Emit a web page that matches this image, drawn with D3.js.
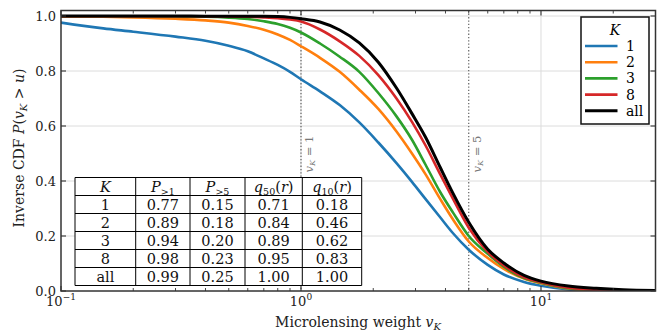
<!DOCTYPE html>
<html>
<head>
<meta charset="utf-8">
<script src="https://cdn.jsdelivr.net/npm/d3@7"></script>
<style>
  html, body { margin: 0; padding: 0; background: #fff; }
  svg { display: block; font-family: "DejaVu Serif", serif; }
</style>
</head>
<body>
<svg id="chart" width="664" height="335"></svg>
<script>
// Microlensing weight grid (v_K) shared by all survival curves
const weights = [0.1, 0.15, 0.2, 0.3, 0.4, 0.5, 0.6, 0.7, 0.8, 0.9, 1.0, 1.2, 1.45, 1.75, 2.1,
                 2.5, 2.9, 3.3, 3.8, 4.3, 5.0, 6.0, 7.0, 8.5, 10, 13, 17, 22, 30];

// Inverse CDF P(v_K > u) for each K
const cdfK1 = [0.976, 0.955, 0.943, 0.925, 0.91, 0.892, 0.872, 0.846, 0.822, 0.797, 0.77, 0.726, 0.676, 0.613, 0.54,
               0.465, 0.397, 0.335, 0.268, 0.21, 0.15, 0.095, 0.06, 0.033, 0.019, 0.006, 0.002, 0.001, 0.0];
const cdfK2 = [0.998, 0.997, 0.995, 0.99, 0.984, 0.976, 0.964, 0.95, 0.933, 0.913, 0.89, 0.848, 0.797, 0.732, 0.662,
               0.58, 0.50, 0.425, 0.335, 0.26, 0.18, 0.12, 0.08, 0.045, 0.028, 0.009, 0.003, 0.001, 0.0];
const cdfK3 = [0.999, 0.999, 0.999, 0.998, 0.997, 0.994, 0.989, 0.981, 0.971, 0.957, 0.94, 0.9, 0.852, 0.797, 0.72,
               0.635, 0.55, 0.46, 0.36, 0.285, 0.20, 0.135, 0.088, 0.047, 0.03, 0.01, 0.004, 0.001, 0.0];
const cdfK8 = [0.999, 0.999, 0.999, 0.999, 0.999, 0.998, 0.997, 0.995, 0.992, 0.987, 0.98, 0.951, 0.908, 0.855, 0.785,
               0.70, 0.615, 0.53, 0.425, 0.335, 0.23, 0.142, 0.093, 0.05, 0.032, 0.012, 0.004, 0.001, 0.0];
const cdfAll = [1.0, 1.0, 1.0, 1.0, 0.9995, 0.9995, 0.999, 0.999, 0.998, 0.995, 0.99, 0.978, 0.949, 0.902, 0.832,
                0.738, 0.645, 0.56, 0.45, 0.355, 0.25, 0.152, 0.102, 0.057, 0.036, 0.018, 0.01, 0.005, 0.002];

const seriesNames = ["1", "2", "3", "8", "all"];
const seriesValues = [cdfK1, cdfK2, cdfK3, cdfK8, cdfAll];
const seriesColors = ["#1f77b4", "#ff7f0e", "#2ca02c", "#d62728", "#000000"];

// Summary table
const tableK = ["1", "2", "3", "8", "all"];
const tablePgt1 = ["0.77", "0.89", "0.94", "0.98", "0.99"];
const tablePgt5 = ["0.15", "0.18", "0.20", "0.23", "0.25"];
const tableQ50 = ["0.71", "0.84", "0.89", "0.95", "1.00"];
const tableQ10 = ["0.18", "0.46", "0.62", "0.83", "1.00"];

// Reference thresholds
const thresholds = [1, 5];

const yTicks = [0, 0.2, 0.4, 0.6, 0.8, 1.0];
const xMajor = [0.1, 1, 10];
const xExponents = ["\u22121", "0", "1"];

const svg = d3.select("#chart");
const m = { left: 61, right: 655.5, top: 10.5, bottom: 291 };

const x = d3.scaleLog().domain([0.1, 30]).range([m.left, m.right]);
const y = d3.scaleLinear().domain([0, 1.02]).range([m.bottom, m.top]);

const plotH = m.bottom - m.top;

// clip path for the plotting area
svg.append("defs").append("clipPath").attr("id", "plotClip")
  .append("rect").attr("x", m.left).attr("y", m.top)
  .attr("width", m.right - m.left).attr("height", plotH);

// grid
const grid = svg.append("g");
grid.selectAll(".gy").data(yTicks.filter(d => d > 0)).join("line")
  .attr("x1", m.left).attr("x2", m.right)
  .attr("y1", d => y(d)).attr("y2", d => y(d))
  .attr("stroke", "#dcdcdc").attr("stroke-width", 1);
grid.selectAll(".gx").data(xMajor.filter(d => d > 0.1)).join("line")
  .attr("x1", d => x(d)).attr("x2", d => x(d))
  .attr("y1", m.top).attr("y2", m.bottom)
  .attr("stroke", "#dcdcdc").attr("stroke-width", 1);

// threshold markers
const thr = svg.append("g");
thr.selectAll("line").data(thresholds).join("line")
  .attr("x1", d => x(d)).attr("x2", d => x(d))
  .attr("y1", m.top).attr("y2", m.bottom)
  .attr("stroke", "#555").attr("stroke-width", 1.1)
  .attr("stroke-dasharray", "1.3,2");
thr.selectAll("text").data(thresholds).join("text")
  .attr("transform", d => `translate(${x(d) + 12},154) rotate(-90)`)
  .attr("text-anchor", "middle")
  .attr("font-size", 11.5).attr("fill", "#777")
  .each(function(d) {
    const t = d3.select(this);
    t.append("tspan").attr("font-style", "italic").text("v");
    t.append("tspan").attr("font-style", "italic").attr("font-size", 8).attr("dy", 2.5).text("K");
    t.append("tspan").attr("dy", -2.5).text(" = " + d);
  });

// curves
const line = d3.line()
  .x(d => x(d[0]))
  .y(d => y(d[1]))
  .curve(d3.curveMonotoneX);

const curves = svg.append("g").attr("clip-path", "url(#plotClip)");
seriesValues.forEach((vals, i) => {
  curves.append("path")
    .datum(weights.map((w, j) => [w, vals[j]]))
    .attr("d", line)
    .attr("fill", "none")
    .attr("stroke", seriesColors[i])
    .attr("stroke-width", i === 4 ? 3 : 2.6)
    .attr("stroke-linejoin", "round");
});

// summary table
const colEdges = [75, 135.7, 190, 245, 302.3, 361.7];
const rowTop = 177.5, rowH = 18;
const table = svg.append("g").attr("font-size", 14.5).attr("fill", "#111");
const nRows = tableK.length + 1;
table.append("rect")
  .attr("x", colEdges[0]).attr("y", rowTop)
  .attr("width", colEdges[5] - colEdges[0]).attr("height", nRows * rowH)
  .attr("fill", "#fff");
for (let r = 0; r <= nRows; r++) {
  table.append("line")
    .attr("x1", colEdges[0]).attr("x2", colEdges[5])
    .attr("y1", rowTop + r * rowH).attr("y2", rowTop + r * rowH)
    .attr("stroke", "#000").attr("stroke-width", 1);
}
colEdges.forEach(cx => {
  table.append("line")
    .attr("x1", cx).attr("x2", cx)
    .attr("y1", rowTop).attr("y2", rowTop + nRows * rowH)
    .attr("stroke", "#000").attr("stroke-width", 1);
});
const colMid = i => (colEdges[i] + colEdges[i + 1]) / 2;
const cellY = r => rowTop + r * rowH + rowH / 2 + 5;

// header cells
const header = [
  t => { t.append("tspan").attr("font-style", "italic").text("K"); },
  t => { t.append("tspan").attr("font-style", "italic").text("P");
         t.append("tspan").attr("font-size", 9.5).attr("dy", 3).text(">1"); },
  t => { t.append("tspan").attr("font-style", "italic").text("P");
         t.append("tspan").attr("font-size", 9.5).attr("dy", 3).text(">5"); },
  t => { t.append("tspan").attr("font-style", "italic").text("q");
         t.append("tspan").attr("font-size", 9.5).attr("dy", 3).text("50");
         t.append("tspan").attr("dy", -3).text("(");
         t.append("tspan").attr("font-style", "italic").text("r");
         t.append("tspan").text(")"); },
  t => { t.append("tspan").attr("font-style", "italic").text("q");
         t.append("tspan").attr("font-size", 9.5).attr("dy", 3).text("10");
         t.append("tspan").attr("dy", -3).text("(");
         t.append("tspan").attr("font-style", "italic").text("r");
         t.append("tspan").text(")"); }
];
header.forEach((fn, i) => {
  const t = table.append("text").attr("x", colMid(i)).attr("y", cellY(0)).attr("text-anchor", "middle");
  fn(t);
});
const columns = [tableK, tablePgt1, tablePgt5, tableQ50, tableQ10];
columns.forEach((col, c) => {
  col.forEach((v, r) => {
    table.append("text")
      .attr("x", colMid(c)).attr("y", cellY(r + 1))
      .attr("text-anchor", "middle").text(v);
  });
});

// frame and ticks
const axisColor = "#333";
const frame = svg.append("g");
frame.append("rect")
  .attr("x", m.left).attr("y", m.top)
  .attr("width", m.right - m.left).attr("height", plotH)
  .attr("fill", "none").attr("stroke", axisColor).attr("stroke-width", 1.5);

// y ticks (inward, both sides)
yTicks.forEach(v => {
  frame.append("line").attr("x1", m.left).attr("x2", m.left + 5)
    .attr("y1", y(v)).attr("y2", y(v)).attr("stroke", axisColor).attr("stroke-width", 1.1);
  frame.append("line").attr("x1", m.right).attr("x2", m.right - 5)
    .attr("y1", y(v)).attr("y2", y(v)).attr("stroke", axisColor).attr("stroke-width", 1.1);
  frame.append("text").attr("x", 56).attr("y", y(v) + 4.5)
    .attr("text-anchor", "end").attr("font-size", 13).attr("fill", "#222")
    .text(v.toFixed(1));
});

// x ticks (log, major + minor, inward top and bottom)
const xMinor = [];
[0.1, 1, 10].forEach(dec => {
  for (let k = 2; k <= 9; k++) { const v = dec * k; if (v <= 30) xMinor.push(v); }
});
xMinor.forEach(v => {
  frame.append("line").attr("x1", x(v)).attr("x2", x(v))
    .attr("y1", m.bottom).attr("y2", m.bottom - 3).attr("stroke", axisColor).attr("stroke-width", 0.9);
  frame.append("line").attr("x1", x(v)).attr("x2", x(v))
    .attr("y1", m.top).attr("y2", m.top + 3).attr("stroke", axisColor).attr("stroke-width", 0.9);
});
xMajor.forEach((v, i) => {
  frame.append("line").attr("x1", x(v)).attr("x2", x(v))
    .attr("y1", m.bottom).attr("y2", m.bottom - 5).attr("stroke", axisColor).attr("stroke-width", 1.1);
  frame.append("line").attr("x1", x(v)).attr("x2", x(v))
    .attr("y1", m.top).attr("y2", m.top + 5).attr("stroke", axisColor).attr("stroke-width", 1.1);
  const t = frame.append("text").attr("x", x(v)).attr("y", 306)
    .attr("text-anchor", "middle").attr("font-size", 13).attr("fill", "#222");
  t.append("tspan").text("10");
  t.append("tspan").attr("font-size", 9).attr("dy", -6).text(xExponents[i]);
});

// axis titles
const xl = svg.append("text").attr("x", 358).attr("y", 327)
  .attr("text-anchor", "middle").attr("font-size", 14).attr("fill", "#222");
xl.append("tspan").text("Microlensing weight ");
xl.append("tspan").attr("font-style", "italic").text("v");
xl.append("tspan").attr("font-style", "italic").attr("font-size", 10).attr("dy", 3).text("K");

const yl = svg.append("text").attr("transform", "translate(24,148) rotate(-90)")
  .attr("text-anchor", "middle").attr("font-size", 14).attr("fill", "#222");
yl.append("tspan").text("Inverse CDF ");
yl.append("tspan").attr("font-style", "italic").text("P");
yl.append("tspan").text("(");
yl.append("tspan").attr("font-style", "italic").text("v");
yl.append("tspan").attr("font-style", "italic").attr("font-size", 10).attr("dy", 3).text("K");
yl.append("tspan").attr("dy", -3).text(" > ");
yl.append("tspan").attr("font-style", "italic").text("u");
yl.append("tspan").text(")");

// legend
const lg = svg.append("g");
lg.append("rect").attr("x", 581).attr("y", 17).attr("width", 68).attr("height", 107)
  .attr("fill", "#fff").attr("stroke", "#111").attr("stroke-width", 1.5);
lg.append("text").attr("x", 615).attr("y", 35).attr("text-anchor", "middle")
  .attr("font-size", 14).attr("font-style", "italic").text("K");
seriesNames.forEach((name, i) => {
  const ly = 46 + i * 16.2;
  lg.append("line").attr("x1", 585).attr("x2", 617.5).attr("y1", ly).attr("y2", ly)
    .attr("stroke", seriesColors[i]).attr("stroke-width", i === 4 ? 3 : 2.6);
  lg.append("text").attr("x", 626).attr("y", ly + 5).attr("font-size", 14).text(name);
});
</script>
</body>
</html>
